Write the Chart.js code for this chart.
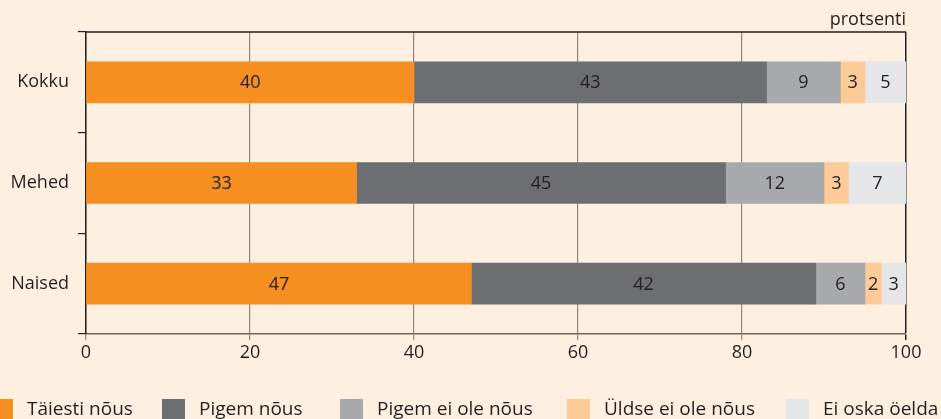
<!DOCTYPE html>
<html lang="et">
<head>
<meta charset="UTF-8">
<title>Nõusolek</title>
<script src="https://cdn.jsdelivr.net/npm/chart.js"></script>
<style>
    html, body { margin: 0; padding: 0; background: #fdf0e1; }
    #wrap { position: relative; width: 941px; height: 419px; overflow: hidden; }
</style>
</head>
<body>
<div id="wrap"><canvas id="chart" width="941" height="419"></canvas></div>
<script>
    // data
    const categories = ['Kokku', 'Mehed', 'Naised'];
    const seriesNames = ['Täiesti nõus', 'Pigem nõus', 'Pigem ei ole nõus', 'Üldse ei ole nõus', 'Ei oska öelda'];
    const taiestiNous = [40, 33, 47];
    const pigemNous = [43, 45, 42];
    const pigemEiOleNous = [9, 12, 6];
    const uldseEiOleNous = [3, 3, 2];
    const eiOskaOelda = [5, 7, 3];
    const xTicks = [0, 20, 40, 60, 80, 100];

    const colors = ['#f58f1f', '#6d6e71', '#a7a9ac', '#fdcb98', '#e5e6e8'];
    const FONT = '"Open Sans", "Noto Sans", sans-serif';
    const INK = '#231f20';

    // legend square left edges (it is cut off at the left edge in the original)
    const legendX = [-10, 162, 340, 567, 786];

    const valueLabels = {
        id: 'valueLabels',
        afterDatasetsDraw(chart) {
            const c = chart.ctx;
            c.save();
            c.font = '18px ' + FONT;
            c.fillStyle = INK;
            c.textAlign = 'center';
            c.textBaseline = 'middle';
            chart.data.datasets.forEach((ds, i) => {
                chart.getDatasetMeta(i).data.forEach((bar, j) => {
                    const p = bar.getCenterPoint();
                    c.fillText(ds.data[j], p.x, p.y + 1);
                });
            });
            c.restore();
        }
    };

    const frame = {
        id: 'frame',
        afterDraw(chart) {
            const c = chart.ctx, a = chart.chartArea;
            c.save();
            c.strokeStyle = INK;
            c.lineWidth = 1.5;
            c.beginPath();
            c.moveTo(a.left, a.top);
            c.lineTo(a.right, a.top);
            c.stroke();
            c.font = '18px ' + FONT;
            c.fillStyle = INK;
            c.textAlign = 'right';
            c.textBaseline = 'alphabetic';
            c.fillText('protsenti', a.right, 25);

            // legend row
            c.font = '19px ' + FONT;
            c.textAlign = 'left';
            seriesNames.forEach((name, i) => {
                const x = legendX[i];
                c.fillStyle = colors[i];
                c.fillRect(x, 399, 23, 23);
                c.fillStyle = INK;
                c.fillText(name, x + 37, 415);
            });
            c.restore();
        }
    };

    const seriesData = [taiestiNous, pigemNous, pigemEiOleNous, uldseEiOleNous, eiOskaOelda];

    new Chart(document.getElementById('chart'), {
        type: 'bar',
        data: {
            labels: categories,
            datasets: seriesNames.map((name, i) => ({
                label: name,
                data: seriesData[i],
                backgroundColor: colors[i],
                borderWidth: 0,
                barThickness: 41
            }))
        },
        options: {
            indexAxis: 'y',
            responsive: false,
            animation: false,
            layout: { padding: { left: 0, top: 32, right: 35, bottom: 55 } },
            plugins: { legend: { display: false }, tooltip: { enabled: false } },
            scales: {
                x: {
                    stacked: true,
                    min: 0,
                    max: 100,
                    afterBuildTicks: s => { s.ticks = xTicks.map(v => ({ value: v })); },
                    afterFit: s => { s.height = 30; },
                    grid: {
                        color: ctx => ctx.tick && ctx.tick.value === 100 ? INK : '#8c8783',
                        lineWidth: ctx => ctx.tick && ctx.tick.value === 100 ? 1.5 : 1.2,
                        tickLength: 6
                    },
                    border: { color: '#6b6560', width: 1.5 },
                    ticks: { color: INK, font: { family: FONT, size: 18 }, padding: 2 }
                },
                y: {
                    stacked: true,
                    afterFit: s => { s.width = 86; },
                    grid: {
                        offset: true,
                        drawOnChartArea: false,
                        tickLength: 8,
                        color: INK,
                        lineWidth: 1.2
                    },
                    border: { color: INK, width: 1.5 },
                    ticks: { color: INK, font: { family: FONT, size: 18 }, padding: 9 }
                }
            }
        },
        plugins: [valueLabels, frame]
    });
</script>
</body>
</html>
